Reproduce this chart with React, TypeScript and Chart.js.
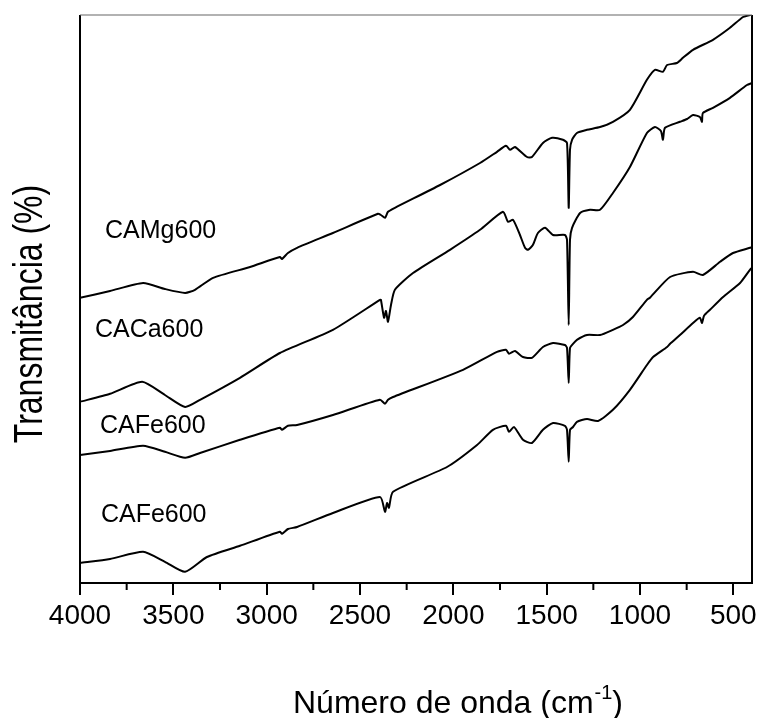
import React, { useEffect, useRef } from "react";
import { Chart, registerables } from "chart.js";

Chart.register(...registerables);

// ---- Data (wavenumber in cm-1, transmittance in arbitrary units) ----
const camgWn = [4000, 3839, 3662, 3545, 3437, 3384, 3287, 3089, 2929, 2918, 2886, 2837, 2645, 2404, 2388, 2366, 2350, 2313, 2071, 1857, 1766, 1718, 1696, 1670, 1605, 1579, 1520, 1471, 1413, 1391, 1382, 1375, 1364, 1338, 1284, 1214, 1145, 1054, 963, 920, 877, 855, 802, 770, 716, 609, 518, 448, 411, 400];
const camgT = [71.3, 73.0, 75.0, 73.5, 72.5, 73.3, 76.3, 79.0, 81.5, 81.0, 82.5, 83.8, 87.5, 92.3, 92.0, 91.3, 92.8, 93.8, 99.5, 105.0, 107.8, 109.3, 108.3, 109.0, 106.5, 106.5, 110.0, 111.3, 110.8, 110.0, 93.8, 108.3, 110.8, 112.5, 113.3, 114.0, 115.3, 118.3, 125.8, 128.3, 127.8, 129.5, 130.0, 131.3, 133.3, 135.8, 138.8, 141.5, 142.0, 142.5];

const cacaWn = [4000, 3839, 3667, 3545, 3437, 3357, 3143, 2929, 2645, 2393, 2388, 2371, 2361, 2350, 2334, 2313, 2216, 2018, 1857, 1734, 1707, 1680, 1643, 1616, 1600, 1574, 1547, 1509, 1466, 1402, 1391, 1382, 1375, 1364, 1321, 1268, 1214, 1145, 1054, 963, 920, 888, 877, 866, 786, 748, 716, 679, 668, 663, 609, 518, 427, 400];
const cacaT = [45.3, 47.3, 50.3, 47.0, 44.0, 45.8, 51.3, 57.5, 63.3, 70.8, 70.8, 66.3, 68.0, 65.3, 69.5, 73.3, 77.5, 83.3, 88.3, 92.8, 90.3, 90.8, 87.0, 83.8, 83.3, 84.5, 87.5, 88.8, 87.0, 87.0, 85.8, 64.5, 85.8, 88.8, 92.5, 93.3, 93.3, 97.5, 104.0, 112.5, 114.0, 113.0, 110.8, 113.8, 115.3, 116.0, 117.0, 116.5, 115.3, 117.5, 118.8, 121.3, 124.5, 125.0];

const fe1Wn = [4000, 3839, 3662, 3545, 3437, 3357, 3143, 2929, 2918, 2886, 2837, 2645, 2393, 2366, 2350, 2323, 1948, 1766, 1718, 1702, 1670, 1627, 1579, 1520, 1466, 1402, 1391, 1382, 1375, 1359, 1338, 1284, 1214, 1145, 1091, 1038, 963, 947, 839, 716, 663, 571, 502, 411, 400];
const fe1T = [32.0, 33.0, 34.3, 32.8, 31.3, 32.5, 35.8, 38.8, 38.3, 39.3, 39.5, 42.0, 45.8, 44.8, 45.8, 46.5, 53.3, 57.8, 58.3, 57.3, 58.0, 56.5, 56.3, 59.0, 60.0, 59.5, 58.8, 50.0, 58.8, 59.8, 60.8, 62.0, 62.0, 63.3, 64.5, 66.5, 70.8, 71.3, 76.5, 77.8, 77.0, 80.3, 82.5, 83.8, 84.0];

const fe2Wn = [4000, 3839, 3662, 3545, 3437, 3320, 3143, 2929, 2918, 2886, 2837, 2645, 2393, 2366, 2355, 2345, 2323, 2034, 1873, 1788, 1718, 1702, 1675, 1627, 1579, 1520, 1466, 1402, 1391, 1382, 1375, 1359, 1338, 1284, 1225, 1145, 1054, 963, 930, 855, 839, 786, 716, 679, 668, 657, 625, 555, 464, 411, 400];
const fe2T = [5.0, 6.0, 7.8, 5.3, 2.8, 6.5, 9.3, 12.8, 12.3, 13.5, 14.0, 17.5, 21.5, 17.8, 20.0, 18.8, 22.8, 29.0, 34.5, 38.3, 39.3, 37.8, 39.0, 35.8, 35.0, 38.3, 40.0, 39.3, 38.3, 30.3, 38.3, 39.0, 40.3, 41.0, 40.5, 43.3, 48.3, 54.5, 56.5, 59.0, 59.8, 62.0, 65.0, 66.3, 65.0, 66.8, 68.3, 71.5, 75.0, 78.3, 78.8];

const seriesNames = ["CAMg600", "CACa600", "CAFe600", "CAFe600"];
const xTickValues = [500, 750, 1000, 1250, 1500, 1750, 2000, 2250, 2500, 2750, 3000, 3250, 3500, 3750, 4000];
const xMajorStep = 500;

const xTitle = "Número de onda (cm";
const xTitleSup = "-1";
const xTitleEnd = ")";
const yTitle = "Transmitância (%)";

// where the sample names sit, in data coordinates
const nameAnchorWn = [3866, 3920, 3893, 3888];
const nameAnchorT = [86.3, 61.5, 37.5, 15.3];

const FONT = "'Liberation Sans', Arial, Helvetica, sans-serif";

function toPoints(wn: number[], t: number[]) {
  return wn.map((x, i) => ({ x, y: t[i] }));
}

const decorPlugin = {
  id: "decor",
  afterDatasetsDraw(chart: any) {
    const { ctx, chartArea } = chart;
    const { left, right, top, bottom } = chartArea;
    const xs = chart.scales.x;
    const ys = chart.scales.y;
    ctx.save();
    // frame
    ctx.strokeStyle = "#000";
    ctx.lineWidth = 2;
    ctx.beginPath();
    ctx.moveTo(left, top);
    ctx.lineTo(left, bottom);
    ctx.lineTo(right, bottom);
    ctx.lineTo(right, top);
    ctx.stroke();
    ctx.strokeStyle = "#666";
    ctx.lineWidth = 1.2;
    ctx.beginPath();
    ctx.moveTo(left, top);
    ctx.lineTo(right, top);
    ctx.stroke();
    // minor ticks
    ctx.strokeStyle = "#000";
    ctx.lineWidth = 2;
    xTickValues.forEach((v) => {
      if (v % xMajorStep !== 0) {
        const px = xs.getPixelForValue(v);
        ctx.beginPath();
        ctx.moveTo(px, bottom);
        ctx.lineTo(px, bottom + 7);
        ctx.stroke();
      }
    });
    // sample names
    ctx.fillStyle = "#000";
    ctx.font = `25px ${FONT}`;
    ctx.textAlign = "left";
    ctx.textBaseline = "alphabetic";
    seriesNames.forEach((n, i) => {
      ctx.fillText(n, xs.getPixelForValue(nameAnchorWn[i]), ys.getPixelForValue(nameAnchorT[i]));
    });
    // x title with superscript
    const bigFont = `32px ${FONT}`;
    const supFont = `20px ${FONT}`;
    const baseY = 713;
    let x0 = 293;
    ctx.font = bigFont;
    ctx.fillText(xTitle, x0, baseY);
    x0 += ctx.measureText(xTitle).width;
    ctx.font = supFont;
    ctx.fillText(xTitleSup, x0 + 1, baseY - 14);
    x0 += ctx.measureText(xTitleSup).width + 1;
    ctx.font = bigFont;
    ctx.fillText(xTitleEnd, x0, baseY);
    // y title (rotated, slightly tall glyphs)
    ctx.translate(42, 314);
    ctx.rotate(-Math.PI / 2);
    ctx.scale(1, 1.28);
    ctx.font = bigFont;
    ctx.textAlign = "center";
    ctx.fillText(yTitle, 0, 0);
    ctx.restore();
  },
};

export default function App() {
  const ref = useRef<HTMLCanvasElement | null>(null);
  useEffect(() => {
    if (!ref.current) return;
    const chart = new Chart(ref.current, {
      type: "line",
      data: {
        datasets: [
          { label: seriesNames[0], data: toPoints(camgWn, camgT) },
          { label: seriesNames[1], data: toPoints(cacaWn, cacaT) },
          { label: seriesNames[2], data: toPoints(fe1Wn, fe1T) },
          { label: seriesNames[3], data: toPoints(fe2Wn, fe2T) },
        ].map((d) => ({
          ...d,
          borderColor: "#000",
          borderWidth: 2,
          pointRadius: 0,
          fill: false,
          tension: 0.2,
        })),
      },
      options: {
        animation: false,
        responsive: false,
        maintainAspectRatio: false,
        layout: { padding: { left: 80, right: 10, top: 15, bottom: 81.4 } },
        plugins: { legend: { display: false }, tooltip: { enabled: false }, title: { display: false } },
        scales: {
          x: {
            type: "linear",
            reverse: true,
            min: 400,
            max: 4000,
            afterBuildTicks: (s: any) => {
              s.ticks = xTickValues.map((v) => ({ value: v }));
            },
            ticks: {
              autoSkip: false,
              maxRotation: 0,
              padding: 4,
              color: "#000",
              font: { family: FONT, size: 28 },
              callback: (v: any) => (Number(v) % xMajorStep === 0 ? String(v) : ""),
            },
            grid: {
              drawOnChartArea: false,
              tickLength: 12,
              lineWidth: 2,
              color: (c: any) => (c.tick && c.tick.value % xMajorStep === 0 ? "#000" : "rgba(0,0,0,0)"),
            },
            border: { display: false },
          },
          y: { display: false, min: 0, max: 142 },
        },
      },
      plugins: [decorPlugin],
    });
    return () => chart.destroy();
  }, []);
  return (
    <div style={{ position: "absolute", left: 0, top: 0, width: 762, height: 718, background: "#fff" }}>
      <canvas ref={ref} width={762} height={718} style={{ display: "block" }} />
    </div>
  );
}
